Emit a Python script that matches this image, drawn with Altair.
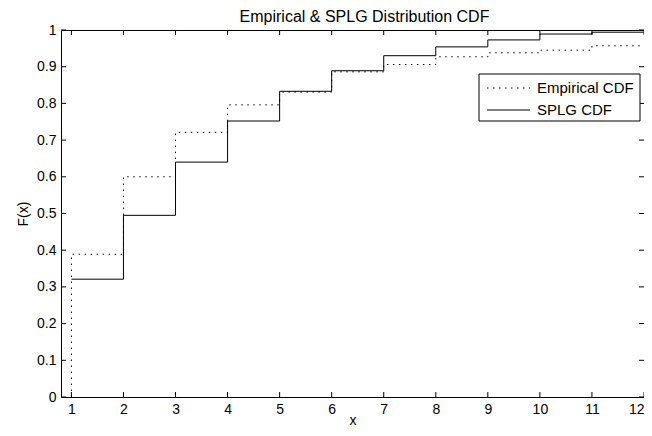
import altair as alt
import pandas as pd

# ---- data ----
title_text = ["Empirical & SPLG Distribution CDF"]
series = ["Empirical CDF", "SPLG CDF"]
x_emp = [1, 1, 2, 3, 4, 5, 6, 7, 8, 9, 10, 11, 12]
f_emp = [0.0, 0.389, 0.600, 0.721, 0.796, 0.831, 0.886, 0.906, 0.927, 0.938, 0.945, 0.957, 0.957]
x_splg = [1, 2, 3, 4, 5, 6, 7, 8, 9, 10, 11, 12]
f_splg = [0.321, 0.495, 0.640, 0.752, 0.833, 0.889, 0.930, 0.954, 0.973, 0.989, 0.994, 0.994]
x_ticks = [1, 2, 3, 4, 5, 6, 7, 8, 9, 10, 11, 12]
y_ticks = [0, 0.1, 0.2, 0.3, 0.4, 0.5, 0.6, 0.7, 0.8, 0.9, 1]

W, H = 583, 367
FONT = "Liberation Sans"
TICK = 5
LBL = 14

emp = pd.DataFrame({"x": x_emp, "F": f_emp, "i": range(len(x_emp)), "s": series[0]})
splg = pd.DataFrame({"x": x_splg, "F": f_splg, "i": range(len(x_splg)), "s": series[1]})

xscale = alt.Scale(domain=[0.8, 12], nice=False, zero=False)
yscale = alt.Scale(domain=[0, 1], nice=False)

xaxis = alt.Axis(values=x_ticks, tickSize=0, domain=False, grid=False, labelFontSize=LBL,
                 labelFont=FONT, labelColor="black", labelPadding=5, labelFlush=1,
                 labelOverlap=False,
                 title="x", titleFont=FONT, titleFontSize=LBL, titleFontWeight="normal",
                 titleColor="black", titleBaseline="alphabetic", titleY=27)
yaxis = alt.Axis(values=y_ticks, format="~g", tickSize=0, domain=False, grid=False,
                 labelFontSize=LBL, labelFont=FONT, labelColor="black", labelPadding=5,
                 labelOverlap=False,
                 title="F(x)", titleFont=FONT, titleFontSize=LBL, titleFontWeight="normal",
                 titleColor="black", titlePadding=6)

emp_line = alt.Chart(emp).mark_line(interpolate="step-after", color="black", strokeWidth=1,
                                    strokeDash=[1.5, 4.5]).encode(
    x=alt.X("x:Q", scale=xscale, axis=xaxis),
    y=alt.Y("F:Q", scale=yscale, axis=yaxis),
    order="i:Q",
)
splg_line = alt.Chart(splg).mark_line(interpolate="step-after", color="black", strokeWidth=1).encode(
    x=alt.X("x:Q", scale=xscale, axis=xaxis),
    y=alt.Y("F:Q", scale=yscale, axis=yaxis),
    order="i:Q",
)

xt = pd.DataFrame({"x": x_ticks})
yt = pd.DataFrame({"F": y_ticks})
tick_bottom = alt.Chart(xt).mark_rule(color="black", strokeWidth=1).encode(
    x=alt.X("x:Q", scale=xscale, axis=xaxis), y=alt.value(H), y2=alt.value(H - TICK))
tick_top = alt.Chart(xt).mark_rule(color="black", strokeWidth=1).encode(
    x=alt.X("x:Q", scale=xscale, axis=xaxis), y=alt.value(0), y2=alt.value(TICK))
tick_left = alt.Chart(yt).mark_rule(color="black", strokeWidth=1).encode(
    y=alt.Y("F:Q", scale=yscale, axis=yaxis), x=alt.value(0), x2=alt.value(TICK))
tick_right = alt.Chart(yt).mark_rule(color="black", strokeWidth=1).encode(
    y=alt.Y("F:Q", scale=yscale, axis=yaxis), x=alt.value(W), x2=alt.value(W - TICK))

# ---- chart title as a text mark ----
title_mark = alt.Chart(pd.DataFrame({"t": title_text})).mark_text(
    align="center", baseline="alphabetic", fontSize=16, font=FONT, color="black").encode(
    text="t:N", x=alt.value(W / 2 + 12), y=alt.value(-8))

# ---- manual legend box ----
LX0, LX1, LY0, LY1 = 418, 579, 44, 91
ROW1, ROW2 = 58, 80
SYM0, SYM1, TXT = 426, 469, 476
LEGFS = 15
leg_box = alt.Chart(pd.DataFrame({"k": [0]})).mark_rect(fill="white", stroke="black", strokeWidth=1).encode(
    x=alt.value(LX0), x2=alt.value(LX1), y=alt.value(LY0), y2=alt.value(LY1))
leg_sym1 = alt.Chart(pd.DataFrame({"s": [series[0]]})).mark_rule(color="black", strokeWidth=1,
                                                                 strokeDash=[1.5, 4.5]).encode(
    x=alt.value(SYM0), x2=alt.value(SYM1), y=alt.value(ROW1))
leg_sym2 = alt.Chart(pd.DataFrame({"s": [series[1]]})).mark_rule(color="black", strokeWidth=1).encode(
    x=alt.value(SYM0), x2=alt.value(SYM1), y=alt.value(ROW2))
leg_txt1 = alt.Chart(pd.DataFrame({"s": [series[0]]})).mark_text(
    align="left", baseline="middle", fontSize=LEGFS, font=FONT, color="black").encode(
    text="s:N", x=alt.value(TXT), y=alt.value(ROW1))
leg_txt2 = alt.Chart(pd.DataFrame({"s": [series[1]]})).mark_text(
    align="left", baseline="middle", fontSize=LEGFS, font=FONT, color="black").encode(
    text="s:N", x=alt.value(TXT), y=alt.value(ROW2))

chart = alt.layer(
    emp_line, splg_line, tick_bottom, tick_top, tick_left, tick_right,
    leg_box, leg_sym1, leg_sym2, leg_txt1, leg_txt2, title_mark,
).properties(
    width=W, height=H,
    autosize=alt.AutoSizeParams(type="none"),
    padding={"left": 53, "top": 22, "right": 0, "bottom": 31},
).configure_view(stroke="black", strokeWidth=1)

chart.save("out.html", embed_options={"renderer": "svg", "actions": False})
